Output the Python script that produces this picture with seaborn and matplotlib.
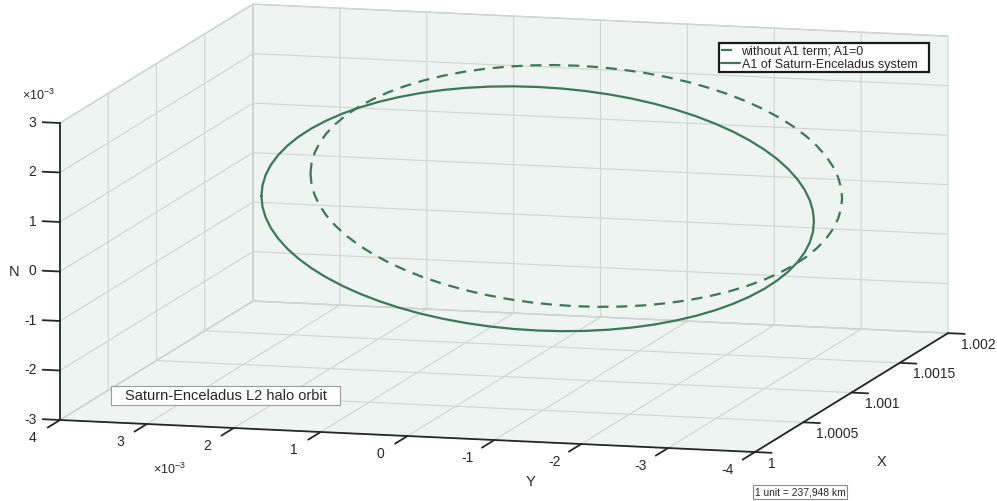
import numpy as np
import matplotlib
matplotlib.use("Agg")
import matplotlib.pyplot as plt
from matplotlib.patches import Rectangle
from mpl_toolkits.mplot3d import proj3d
import seaborn as sns

# halo orbits; Y and N in units of 1e-3 (every 5 deg of phase)
solid_y = [2.570, 2.558, 2.522, 2.462, 2.378, 2.272, 2.144, 1.995, 1.826, 1.639,
           1.434, 1.214, 0.980, 0.734, 0.478, 0.213, -0.058, -0.333, -0.610,
           -0.887, -1.162, -1.433, -1.698, -1.954, -2.200, -2.434, -2.654, -2.859,
           -3.046, -3.215, -3.364, -3.492, -3.598, -3.682, -3.742, -3.778, -3.790,
           -3.778, -3.742, -3.682, -3.598, -3.492, -3.364, -3.215, -3.046, -2.859,
           -2.654, -2.434, -2.200, -1.954, -1.698, -1.433, -1.162, -0.887, -0.610,
           -0.333, -0.058, 0.213, 0.478, 0.734, 0.980, 1.214, 1.434, 1.639, 1.826,
           1.995, 2.144, 2.272, 2.378, 2.462, 2.522, 2.558, 2.570]
solid_n = [0.680, 0.895, 1.107, 1.317, 1.521, 1.720, 1.910, 2.091, 2.261, 2.419,
           2.564, 2.695, 2.810, 2.910, 2.992, 3.056, 3.103, 3.131, 3.140,
           3.131, 3.103, 3.056, 2.992, 2.910, 2.810, 2.695, 2.564, 2.419,
           2.261, 2.091, 1.910, 1.720, 1.521, 1.317, 1.107, 0.895, 0.680,
           0.465, 0.253, 0.043, -0.161, -0.360, -0.550, -0.731, -0.901, -1.059,
           -1.204, -1.335, -1.450, -1.550, -1.632, -1.696, -1.743, -1.771, -1.780,
           -1.771, -1.743, -1.696, -1.632, -1.550, -1.450, -1.335, -1.204, -1.059,
           -0.901, -0.731, -0.550, -0.360, -0.161, 0.043, 0.253, 0.465, 0.680]
solid_x = 1.0008   # depth can't be read from this view, taken constant

dashed_y = [2.450, 2.438, 2.403, 2.346, 2.266, 2.163, 2.040, 1.897, 1.734, 1.554,
            1.357, 1.145, 0.920, 0.683, 0.437, 0.182, -0.079, -0.343, -0.610,
            -0.877, -1.141, -1.402, -1.657, -1.903, -2.140, -2.365, -2.577, -2.774,
            -2.954, -3.117, -3.260, -3.383, -3.486, -3.566, -3.623, -3.658, -3.670,
            -3.658, -3.623, -3.566, -3.486, -3.383, -3.260, -3.117, -2.954, -2.774,
            -2.577, -2.365, -2.140, -1.903, -1.657, -1.402, -1.141, -0.877, -0.610,
            -0.343, -0.079, 0.182, 0.437, 0.683, 0.920, 1.145, 1.357, 1.554, 1.734,
            1.897, 2.040, 2.163, 2.266, 2.346, 2.403, 2.438, 2.450]
dashed_n = [0.660, 0.872, 1.082, 1.289, 1.491, 1.687, 1.875, 2.054, 2.222, 2.378,
            2.521, 2.651, 2.764, 2.862, 2.943, 3.007, 3.053, 3.081, 3.090,
            3.081, 3.053, 3.007, 2.943, 2.862, 2.764, 2.651, 2.521, 2.378,
            2.222, 2.054, 1.875, 1.687, 1.491, 1.289, 1.082, 0.872, 0.660,
            0.448, 0.238, 0.031, -0.171, -0.367, -0.555, -0.734, -0.902, -1.058,
            -1.201, -1.331, -1.444, -1.542, -1.623, -1.687, -1.733, -1.761, -1.770,
            -1.761, -1.733, -1.687, -1.623, -1.542, -1.444, -1.331, -1.201, -1.058,
            -0.902, -0.734, -0.555, -0.367, -0.171, 0.031, 0.238, 0.448, 0.660]
dashed_x = 1.0012

x_ticks = [1, 1.0005, 1.001, 1.0015, 1.002]
x_tick_labels = ['1', '1.0005', '1.001', '1.0015', '1.002']
y_ticks = [-4, -3, -2, -1, 0, 1, 2, 3, 4]
n_ticks = [-3, -2, -1, 0, 1, 2, 3]
legend_labels = ['without A1 term; A1=0', 'A1 of Saturn-Enceladus system']

sns.set_theme(style='white')
plt.rcParams['font.family'] = ['Liberation Sans', 'DejaVu Sans']
plt.rcParams.update({
    'axes.edgecolor': '#262626', 'axes.linewidth': 1.3,
    'grid.color': '#d0d4d2', 'grid.linewidth': 0.8,
    'xtick.major.width': 1.3, 'ytick.major.width': 1.3,
    'xtick.color': '#262626', 'ytick.color': '#262626',
    'mathtext.default': 'regular',
})
green = '#3b775a'
ink = '#262626'

W, H = 997, 502
fig = plt.figure(figsize=(W / 100, H / 100), dpi=100)
ax = fig.add_axes([0, 0, 1, 1], projection='3d', proj_type='ortho')

ax.plot(np.full(len(dashed_y), dashed_x), dashed_y, dashed_n, color=green,
        lw=1.6, dashes=(5, 3.5), label=legend_labels[0])
ax.plot(np.full(len(solid_y), solid_x), solid_y, solid_n, color=green,
        lw=1.6, label=legend_labels[1])

ax.view_init(elev=9.7, azim=195.3)
ax.set_box_aspect((731.6, 720.5, 301.3))
ax.set_xlim(1, 1.002, view_margin=0)
ax.set_ylim(-4, 4, view_margin=0)
ax.set_zlim(-3, 3, view_margin=0)
ax.set_xticks(x_ticks)
ax.set_yticks(y_ticks)
ax.set_zticks(n_ticks)
for axis in (ax.xaxis, ax.yaxis, ax.zaxis):
    axis.set_tick_params(labelsize=0, labelcolor='none')
    axis.set_ticklabels([])
    axis.set_pane_color('#eef4f1')
    axis.pane.set_edgecolor('#c8cdcb')
    axis._axinfo['tick']['outward_factor'] = 0
ax.xaxis._axinfo['tick']['inward_factor'] = 0.3
ax.yaxis._axinfo['tick']['inward_factor'] = 0.8
ax.zaxis._axinfo['tick']['inward_factor'] = 0
ax.xaxis.set_ticks_position('lower')
ax.yaxis.set_ticks_position('lower')
ax.grid(True)

# N ticks point to the left, as in the original
for n in n_ticks:
    ax.plot([1, 1], [4, 4.2], [n, n], color=ink, lw=1.3)

# place the box so its corners land where the original has them
fig.canvas.draw()
def to_px(x, y, z):
    px, py, _ = proj3d.proj_transform(x, y, z, ax.get_proj())
    return ax.transData.transform((px, py))

a = to_px(1, 4, -3)
b = to_px(1.002, -4, 3)
ta = np.array([60, H - 421])
tb = np.array([948, H - 37])
s = (tb[0] - ta[0]) / (b[0] - a[0])
bb = ax.get_position().transformed(fig.transFigure)
rx = (a[0] - bb.x0) / bb.width
ry = (a[1] - bb.y0) / bb.height
side = s * bb.width
ax.set_position([(ta[0] - rx * side) / W, (ta[1] - ry * side) / H, side / W, side / H])
fig.canvas.draw()

# tick labels, put next to the projected tick ends
def label_at(x, y, z, txt, **kw):
    px, py = to_px(x, y, z)
    fig.text(px / W, py / H, txt, fontsize=10, color=ink, va='center', **kw)

for n in n_ticks:
    label_at(1, 4.27, n, str(n), ha='right')
for y in y_ticks:
    label_at(1 - 0.00028, y, -3, str(y), ha='center')
for x, lab in zip(x_ticks, x_tick_labels):
    label_at(x, -4.15, -3.2, lab, ha='left')

leg = ax.legend(loc='upper left', bbox_to_anchor=(719 / W, 1 - 71 / H, 210 / W, 27 / H),
                bbox_transform=fig.transFigure, mode='expand', borderaxespad=0,
                fontsize=9, frameon=True, fancybox=False, framealpha=1, edgecolor='#1a1a1a',
                handlelength=1.5, handletextpad=0.15, labelspacing=0.08, borderpad=0.15)
leg.get_frame().set_linewidth(1.6)

fig.text(14 / W, 1 - 272 / H, 'N', ha='center', va='center', fontsize=10.5)
fig.text(530 / W, 1 - 482 / H, 'Y', ha='center', va='center', fontsize=10.5)
fig.text(882 / W, 1 - 462 / H, 'X', ha='center', va='center', fontsize=10.5)
fig.text(22 / W, 1 - 100 / H, '×10$^{-3}$', ha='left', va='baseline', fontsize=9)
fig.text(153 / W, 1 - 474 / H, '×10$^{-3}$', ha='left', va='baseline', fontsize=9)

fig.add_artist(Rectangle((111 / W, 1 - 406 / H), 229 / W, 19 / H, transform=fig.transFigure,
                         facecolor='white', edgecolor='#9a9a9a', lw=0.8))
fig.text(226 / W, 1 - 396.5 / H, 'Saturn-Enceladus L2 halo orbit', ha='center',
         va='center', fontsize=10.5)
fig.text(800 / W, 1 - 492.7 / H, '1 unit = 237,948 km', ha='center', va='center',
         fontsize=7.4, bbox=dict(boxstyle='square,pad=0.2', fc='white', ec='#8a8a8a', lw=0.8))

fig.savefig('out.png', dpi=100)
